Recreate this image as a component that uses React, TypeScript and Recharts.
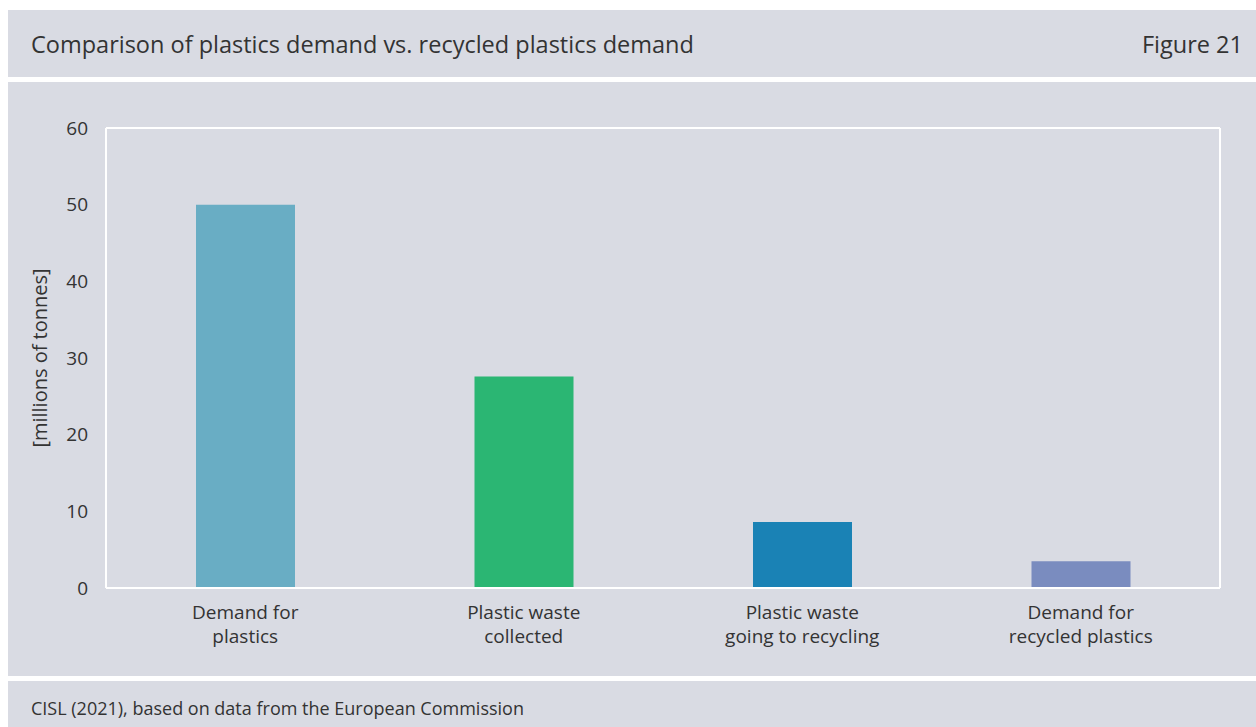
import { Bar, BarChart, CartesianGrid, Cell, XAxis, YAxis } from 'recharts'

const categories = [
  'Demand for\nplastics',
  'Plastic waste\ncollected',
  'Plastic waste\ngoing to recycling',
  'Demand for\nrecycled plastics',
]
const values = [50, 27.6, 8.6, 3.5]
const barColors = ['#69adc4', '#2bb673', '#1a82b5', '#7a8cbf']
const yTicks = [0, 10, 20, 30, 40, 50, 60]

const FONT = '"Open Sans", sans-serif'
const BG = '#d9dbe3'
const TEXT = '#333333'

function CategoryTick({ x, y, payload }: any) {
  const lines = String(payload.value).split('\n')
  return (
    <text x={x} y={y} textAnchor="middle" fill={TEXT} fontSize={19} fontFamily={FONT}>
      {lines.map((line, i) => (
        <tspan key={i} x={x} dy={i === 0 ? 23 : 24}>
          {line}
        </tspan>
      ))}
    </text>
  )
}

export default function App() {
  const data = categories.map((name, i) => ({ name, value: values[i] }))

  return (
    <div style={{ position: 'absolute', left: 8, top: 10, width: 1248, height: 717, fontFamily: FONT, color: TEXT }}>
      <div
        style={{
          position: 'absolute', left: 0, top: 0, width: 1248, height: 67, background: BG,
          display: 'flex', alignItems: 'center', justifyContent: 'space-between',
          padding: '0 13px 0 23px', boxSizing: 'border-box', fontSize: 23.5,
        }}
      >
        <span>Comparison of plastics demand vs. recycled plastics demand</span>
        <span>Figure 21</span>
      </div>
      <div style={{ position: 'absolute', left: 0, top: 72, width: 1248, height: 594, background: BG }}>
        <BarChart width={1248} height={594} data={data} margin={{ top: 46, right: 34, left: 0, bottom: 28 }}>
          <CartesianGrid vertical={false} stroke="#ffffff" strokeWidth={2} />
          <XAxis
            dataKey="name"
            height={60}
            axisLine={{ stroke: '#ffffff', strokeWidth: 2 }}
            tickLine={false}
            tick={<CategoryTick />}
            interval={0}
          />
          <YAxis
            yAxisId="left"
            width={98}
            domain={[0, 60]}
            ticks={yTicks}
            axisLine={{ stroke: '#ffffff', strokeWidth: 2 }}
            tickLine={false}
            tick={{ fill: TEXT, fontSize: 19, fontFamily: FONT }}
            tickMargin={12}
            label={{
              value: '[millions of tonnes]', angle: -90, position: 'insideLeft', offset: 32,
              style: { textAnchor: 'middle', fill: TEXT, fontSize: 20, fontFamily: FONT },
            }}
          />
          <YAxis
            yAxisId="right"
            orientation="right"
            width={2}
            domain={[0, 60]}
            axisLine={{ stroke: '#ffffff', strokeWidth: 2 }}
            tickLine={false}
            tick={false}
          />
          <Bar yAxisId="left" dataKey="value" barSize={99} isAnimationActive={false}>
            {data.map((_, i) => (
              <Cell key={i} fill={barColors[i]} />
            ))}
          </Bar>
        </BarChart>
      </div>
      <div
        style={{
          position: 'absolute', left: 0, top: 671, width: 1248, height: 46, background: BG,
          display: 'flex', alignItems: 'center', padding: '8px 0 0 23px', boxSizing: 'border-box', fontSize: 18,
        }}
      >
        CISL (2021), based on data from the European Commission
      </div>
    </div>
  )
}
